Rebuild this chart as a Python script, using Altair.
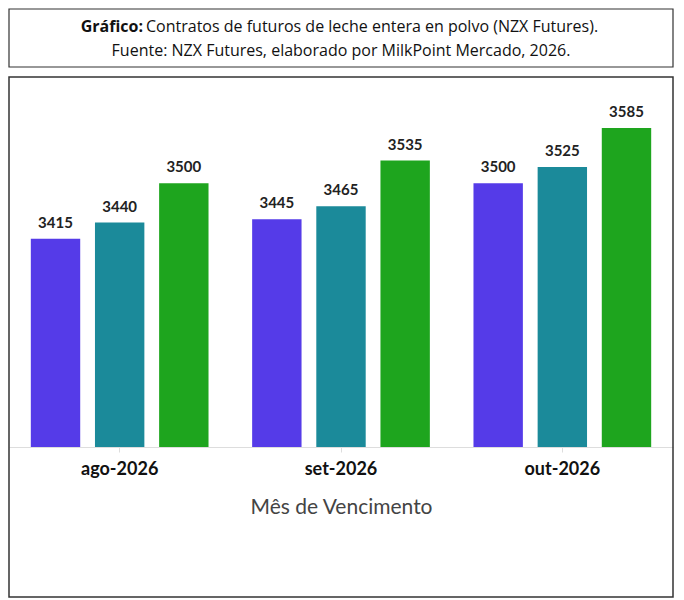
import altair as alt
import pandas as pd

months = ["ago-2026", "set-2026", "out-2026"]
dates = ["16/07/2026", "21/07/2026", "04/08/2026"]
values = {
    "16/07/2026": [3415, 3445, 3500],
    "21/07/2026": [3440, 3465, 3525],
    "04/08/2026": [3500, 3535, 3585],
}
colors = ["#553be8", "#1b8a9a", "#1ea51e"]

rows = [{"mes": m, "data": d, "valor": values[d][i]} for d in dates for i, m in enumerate(months)]
df = pd.DataFrame(rows)

W = 664
FONT = "Lato"

# title box
tdf = pd.DataFrame([{"t": "x"}])
tb = alt.Chart(tdf)
tbox = tb.mark_rect(fill=None, stroke="#333", strokeWidth=1.2).encode(
    x=alt.value(0), x2=alt.value(W), y=alt.value(0), y2=alt.value(58))
t1a = tb.mark_text(font="Open Sans", fontSize=16, fontWeight="bold", align="right", color="#111").encode(
    x=alt.value(134), y=alt.value(18), text=alt.value("Gráfico:"))
t1b = tb.mark_text(font="Open Sans", fontSize=16, align="left", color="#111").encode(
    x=alt.value(137), y=alt.value(18), text=alt.value("Contratos de futuros de leche entera en polvo (NZX Futures)."))
t2 = tb.mark_text(font="Open Sans", fontSize=16, align="center", color="#111").encode(
    x=alt.value(W / 2), y=alt.value(42), text=alt.value("Fuente: NZX Futures, elaborado por MilkPoint Mercado, 2026."))
title = (tbox + t1a + t1b + t2).properties(width=W, height=58)

base = alt.Chart(df).encode(
    x=alt.X("mes:N", sort=months, title="Mês de Vencimento",
            scale=alt.Scale(paddingInner=0, paddingOuter=0),
            axis=alt.Axis(labelAngle=0, labelFont=FONT, labelFontSize=18, labelFontWeight="bold",
                          labelColor="#111", labelPadding=8, titleFont=FONT, titleFontSize=21,
                          titleFontWeight="normal", titleColor="#444", titlePadding=18,
                          domainColor="#ddd", tickColor="#ddd", tickSize=5)),
    xOffset=alt.XOffset("data:N", sort=dates,
                        scale=alt.Scale(paddingInner=0.23, paddingOuter=0.34)),
    y=alt.Y("valor:Q", scale=alt.Scale(domain=[3096, 3663], nice=False, zero=False), axis=None),
)
bars = base.mark_bar(clip=True).encode(
    color=alt.Color("data:N", sort=dates, scale=alt.Scale(domain=dates, range=colors),
                    legend=alt.Legend(orient="bottom", title="Data de Negociação", direction="horizontal",
                                      titleOrient="left", titleFont=FONT, titleFontSize=17,
                                      titleFontWeight="bold", titleColor="#333", labelFont=FONT,
                                      labelFontSize=17, labelColor="#444", symbolType="square",
                                      symbolSize=200, symbolStrokeWidth=0, offset=20, columnPadding=6)))
labels = base.mark_text(dy=-16, font=FONT, fontSize=15, fontWeight="bold", color="#222").encode(
    text="valor:Q")
border = alt.Chart(tdf).mark_rect(fill=None, stroke="#333", strokeWidth=1.5).encode(
    x=alt.value(0), x2=alt.value(W), y=alt.value(0), y2=alt.value(520))
main = (border + bars + labels).properties(width=W, height=370)

chart = alt.vconcat(title, main, spacing=8).properties(padding=0).configure_view(stroke=None)
chart.save("out.html", embed_options={"renderer": "svg", "actions": False})
